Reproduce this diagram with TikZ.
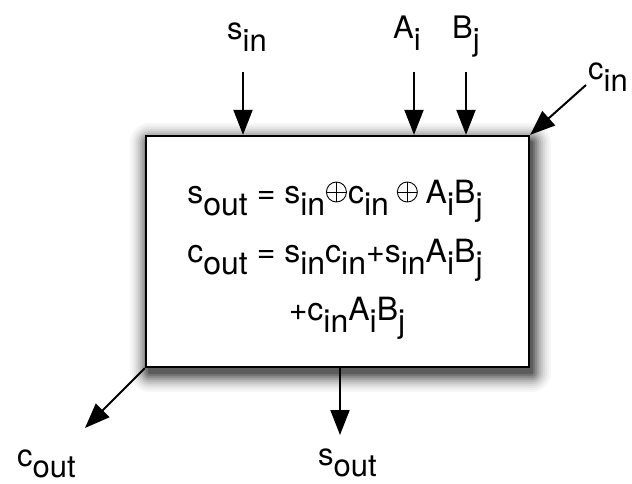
\documentclass[tikz,border=0pt]{standalone}
\usepackage{fontspec}
\setmainfont{TeX Gyre Heros}
\usetikzlibrary{arrows.meta,backgrounds,calc}
\newcommand\sbx[1]{\raisebox{-0.38em}{#1}}
\tikzset{
  arr/.style={line width=2pt,-{Triangle[length=25pt,width=19pt]}},
  boxst/.style={draw,line width=2.3pt,fill=white,minimum width=383pt,minimum height=231pt,inner sep=0pt},
  lbl/.style={font=\fontsize{31}{36}\selectfont,inner sep=0pt,anchor=base west},
  eq/.style={font=\fontsize{32}{40}\selectfont,inner sep=0pt,anchor=base},
  eqw/.style={eq,anchor=base west},
  eqe/.style={eq,anchor=base east},
  oplus/.style={circle,draw,line width=0.9pt,minimum size=20pt,inner sep=0pt,
    path picture={\draw[line width=0.9pt] (path picture bounding box.north) -- (path picture bounding box.south)
      (path picture bounding box.west) -- (path picture bounding box.east);}},
}
\begin{document}
\begin{tikzpicture}[x=1pt,y=1pt]
\useasboundingbox (0,0) rectangle (632,483);
\node[boxst] (box) at (337.5,231.5) {};
\begin{scope}[on background layer]
\foreach \e/\k in {18/3,16/6,14/10,12/15,10/21,8/28,6/36,4/45,2/54,0/64}{
  \fill[black!\k,rounded corners=\e+2] ([shift={(3-\e,-6-\e)}]box.south west) rectangle ([shift={(3+\e,-6+\e)}]box.north east);
}
\end{scope}
% equation lines 2 and 3
\node[eq] (l2) at (335,221) {c\sbx{out} = s\sbx{in}c\sbx{in}+s\sbx{in}A\sbx{i}B\sbx{j}};
\node[eq] (l3) at (347,163) {+c\sbx{in}A\sbx{i}B\sbx{j}};
% equation line 1 (pieces joined by drawn circled plus signs)
\node[eqw] (l1a) at (l2.base west |- 0,280) {s\sbx{out} = s\sbx{in}};
\node[oplus] (o1) at ($(l1a.base east)+(11,11)$) {};
\node[eqw] (l1b) at ($(o1.east |- l1a.base)+(1,0)$) {c\sbx{in}};
\node[eqe] (l1c) at (l2.base east |- l1a.base) {A\sbx{i}B\sbx{j}};
\node[oplus] (o2) at ($(l1b.base east)!0.5!(l1c.base west)+(0,11)$) {};
% labels
\node[lbl] (sin) at (227,443) {s\sbx{in}};
\node[lbl] (ai) at (393,444) {A\sbx{i}};
\node[lbl] (bj) at (452,444) {B\sbx{j}};
\node[lbl] (cin) at (588,403) {c\sbx{in}};
\node[lbl] (cout) at (17,17) {c\sbx{out}};
\node[lbl] (sout) at (318,18) {s\sbx{out}};
% arrow starts / ends
\coordinate (sinS) at (243,411);
\coordinate (aiS) at (414,411);
\coordinate (bjS) at (466,411);
\coordinate (cinS) at (586,398);
\coordinate (coutE) at (85,55);
\coordinate (soutS) at (340,116);
\coordinate (soutE) at (340,48);
\draw[arr] (sinS) -- (sinS |- box.north);
\draw[arr] (aiS) -- (aiS |- box.north);
\draw[arr] (bjS) -- (bjS |- box.north);
\draw[arr] (cinS) -- (box.north east);
\draw[arr] (box.south west) -- (coutE);
\draw[arr] (soutS |- box.south) -- (soutE);
\end{tikzpicture}
\end{document}
